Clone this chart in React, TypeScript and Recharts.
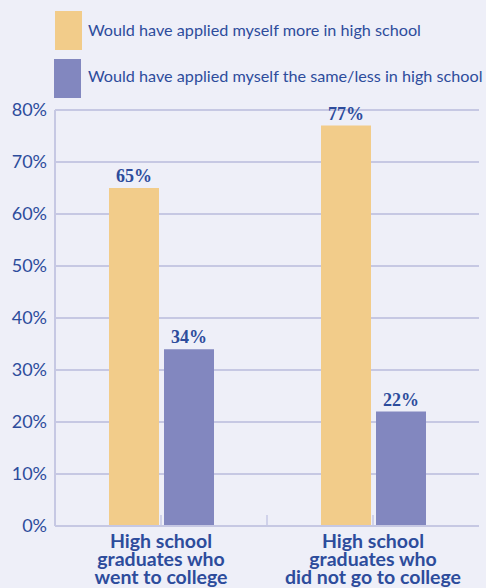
import React from "react";
import { BarChart, Bar, XAxis, YAxis, CartesianGrid, Legend, LabelList } from "recharts";

const categories = ["High school\ngraduates who\nwent to college", "High school\ngraduates who\ndid not go to college"];
const moreValues = [65, 77];
const sameLessValues = [34, 22];
const yTicks = [0, 10, 20, 30, 40, 50, 60, 70, 80];
const seriesNames = ["Would have applied myself more in high school", "Would have applied myself the same/less in high school"];

const BG = "#eeeff8";
const YELLOW = "#f2cc8a";
const PURPLE = "#8287bf";
const TEXT = "#2d4c9c";
const GRID = "#c6c8e3";
const TICK = "#d0d2ea";

const data = categories.map((c, i) => ({ category: c, more: moreValues[i], same: sameLessValues[i] }));

const CatTick = (props: any) => {
  const { x, y, payload, index } = props;
  const lines = String(payload.value).split("\n");
  const half = payload.offset || 0;
  return (
    <g>
      <line x1={x} x2={x} y1={y - 1} y2={y - 11} stroke={TICK} strokeWidth={2} />
      {index === 0 && half > 0 ? (
        <line x1={x + half} x2={x + half} y1={y - 1} y2={y - 11} stroke={TICK} strokeWidth={2} />
      ) : null}
      {lines.map((l, i) => (
        <text key={i} x={x} y={y + 22 + i * 18} textAnchor="middle" fill={TEXT} fontFamily="Lato" fontWeight={700} fontSize={19.5}>
          {l}
        </text>
      ))}
    </g>
  );
};

const LegendContent = (props: any) => {
  const { payload } = props;
  return (
    <div style={{ position: "relative", width: 486, height: 0, overflow: "visible" }}>
      {(payload || []).map((p: any, i: number) => (
        <div key={i}>
          <div style={{ position: "absolute", left: 55 - i, top: 11 + i * 48, width: 27, height: 39, background: p.color }} />
          <div style={{ position: "absolute", left: 88, top: 20 + i * 46, fontFamily: "Lato", fontSize: 16.2, color: TEXT, whiteSpace: "nowrap", lineHeight: "20px" }}>
            {p.value}
          </div>
        </div>
      ))}
    </div>
  );
};

export default function App() {
  return (
    <div style={{ position: "fixed", left: 0, top: 0, width: 486, height: 588, background: BG }}>
      <BarChart width={486} height={588} data={data} margin={{ top: 110, right: 7, bottom: 0, left: 0 }} barGap={5} barSize={50}>
        <CartesianGrid horizontal vertical={false} stroke={GRID} strokeWidth={2} />
        <XAxis dataKey="category" height={62} tick={<CatTick />} tickLine={false} tickSize={0} tickMargin={0} axisLine={{ stroke: GRID, strokeWidth: 2 }} interval={0} />
        <YAxis domain={[0, 80]} ticks={yTicks} width={55} tickFormatter={(v: number) => `${v}%`} tickLine={false} tickSize={0} tickMargin={8} axisLine={{ stroke: GRID, strokeWidth: 2 }} tick={{ fill: TEXT, fontFamily: "Lato", fontSize: 18 }} />
        <Legend verticalAlign="top" align="left" wrapperStyle={{ position: "absolute", top: 0, left: 0, width: 486, height: 0 }} content={<LegendContent />} />
        <Bar dataKey="more" name={seriesNames[0]} fill={YELLOW} isAnimationActive={false}>
          <LabelList dataKey="more" position="top" offset={6} formatter={(v: number) => `${v}%`} fill={TEXT} fontFamily="Liberation Serif" fontWeight={700} fontSize={18} />
        </Bar>
        <Bar dataKey="same" name={seriesNames[1]} fill={PURPLE} isAnimationActive={false}>
          <LabelList dataKey="same" position="top" offset={6} formatter={(v: number) => `${v}%`} fill={TEXT} fontFamily="Liberation Serif" fontWeight={700} fontSize={18} />
        </Bar>
      </BarChart>
    </div>
  );
}
